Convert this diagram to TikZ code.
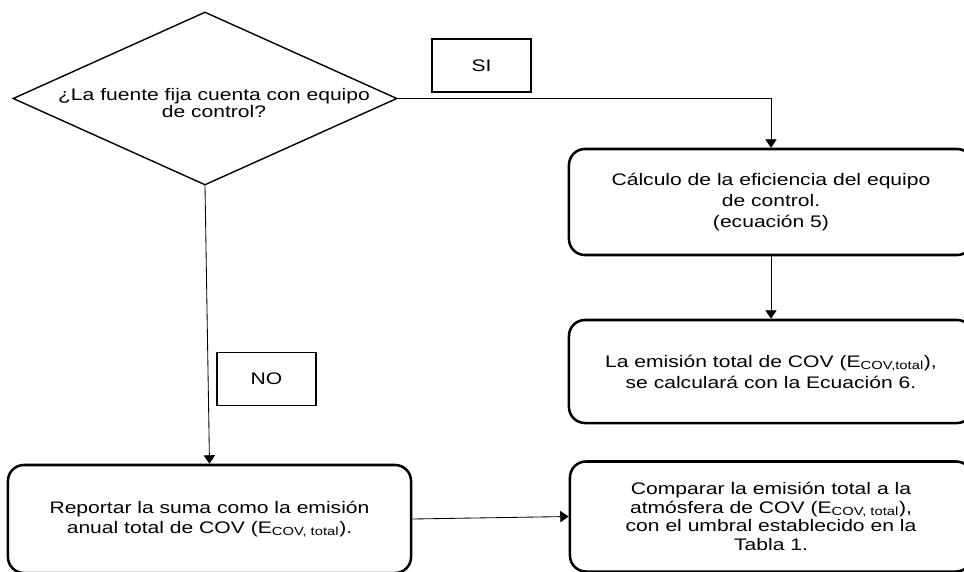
\documentclass[tikz,border=0pt]{standalone}
\usepackage{fontspec}
\setmainfont{Liberation Sans}[FakeStretch=1.26]
\usetikzlibrary{positioning,arrows.meta,shapes.geometric}

\begin{document}
\begin{tikzpicture}[x=0.025cm, y=-0.025cm,
  decision/.style={diamond, draw=black, line width=1pt, minimum width=9.6cm, minimum height=4.325cm, inner sep=0pt},
  process/.style={rectangle, draw=black, line width=1.8pt, rounded corners=0.4cm, align=center, minimum width=10.1cm},
  answer/.style={rectangle, draw=black, line width=0.9pt, minimum width=2.475cm, minimum height=1.33cm, font=\fontsize{11.9pt}{14pt}\selectfont},
  edge_style/.style={draw=black, line width=0.6pt, -{Triangle[length=6pt,width=8pt]}}]
  \useasboundingbox (0,0) rectangle (964,571);
  \node[decision] (Q) at (205,98.5) {};
  \node[align=center, font=\fontsize{11.9pt}{10.6pt}\selectfont] (Qtext) at (214,103) {¿La fuente fija cuenta con equipo\\de control?};
  \node[process, minimum height=2.65cm, font=\fontsize{11.9pt}{15.2pt}\selectfont] (B1) at (771,202)
    {Cálculo de la eficiencia del equipo\\de control.\\(ecuación 5)};
  \node[process, minimum height=2.575cm, font=\fontsize{11.9pt}{14.9pt}\selectfont] (B2) at (771,371.5)
    {La emisión total de COV (E\textsubscript{COV,total}),\\se calculará con la Ecuación 6.};
  \node[process, minimum width=10.075cm, minimum height=2.7cm, font=\fontsize{11.9pt}{14.2pt}\selectfont] (L) at (209.5,519)
    {Reportar la suma como la emisión\\anual total de COV (E\textsubscript{COV, total}).};
  \node[process, minimum width=10.05cm, minimum height=2.75cm, font=\fontsize{11.9pt}{13.3pt}\selectfont] (C) at (771,516.5)
    {Comparar la emisión total a la\\atmósfera de COV (E\textsubscript{COV, total}),\\con el umbral establecido en la\\Tabla 1.};
  \node[answer] (SI) at (481.5,65.5) {SI};
  \node[answer] (NO) at (266.5,379) {NO};
  \draw[edge_style] (Q.east) -| (B1.north);
  \draw[edge_style] (B1.south) -- (B2.north);
  \draw[edge_style] (Q.south) -- (L.north);
  \draw[edge_style] (L.east) -- (C.west);
\end{tikzpicture}
\end{document}
